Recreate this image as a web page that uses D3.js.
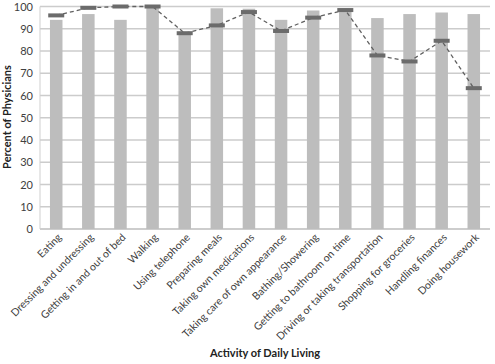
<!DOCTYPE html>
<html><head><meta charset="utf-8">
<script src="https://cdn.jsdelivr.net/npm/d3@7"></script>
<style>body{margin:0;background:#fff}svg{display:block}text{font-family:Lato,"Open Sans",sans-serif}</style>
</head><body>
<svg id="c" width="495" height="364"></svg>
<script>
const categories = ["Eating","Dressing and undressing","Getting in and out of bed","Walking","Using telephone","Preparing meals","Taking own medications","Taking care of own appearance","Bathing/Showering","Getting to bathroom on time","Driving or taking transportation","Shopping for groceries","Handling finances","Doing housework"];
const barValues = [94, 96.6, 94, 100, 87.6, 99.2, 99, 94, 98.2, 99.2, 94.8, 96.6, 97.3, 96.6];
const markerValues = [96, 99.4, 100, 100, 88, 91.5, 97.5, 89, 95, 98.4, 78, 75.3, 84.6, 63.3];
const yTicks = [0,10,20,30,40,50,60,70,80,90,100];

const svg = d3.select("#c");
const L = 40, R = 490, T = 6.5, B = 229;
const x = d3.scaleBand().domain(categories).range([L, R]).paddingInner(0.61).paddingOuter(0.31);
const y = d3.scaleLinear().domain([0,100]).range([B, T]);

// gridlines
svg.append("g").selectAll("line").data(yTicks).join("line")
  .attr("x1", L).attr("x2", R).attr("y1", d=>y(d)).attr("y2", d=>y(d))
  .attr("stroke", d=> d===0 ? "#bdbdbd" : "#cccccc").attr("stroke-width", 1.5);
// left axis line
svg.append("line").attr("x1", L).attr("x2", L).attr("y1", T).attr("y2", B).attr("stroke","#cfcfcf").attr("stroke-width",1);

// y tick labels
const yAxis = d3.axisLeft(y).tickValues(yTicks).tickSize(0).tickPadding(7);
const gy = svg.append("g").attr("transform", `translate(${L},0)`).call(yAxis);
gy.select(".domain").remove();
gy.selectAll("text").attr("font-size", 11).attr("fill", "#404040").attr("font-family","Lato,sans-serif");

// bars
svg.append("g").selectAll("rect").data(categories).join("rect")
  .attr("x", d=>x(d)).attr("width", x.bandwidth())
  .attr("y", (d,i)=>y(barValues[i])).attr("height", (d,i)=>B - y(barValues[i]))
  .attr("fill", "#bdbdbd");

// dashed line
const line = d3.line().x((d,i)=>x(categories[i]) + x.bandwidth()/2).y(d=>y(d));
svg.append("path").datum(markerValues).attr("d", line)
  .attr("fill","none").attr("stroke","#606060").attr("stroke-width",1.3).attr("stroke-dasharray","4,3");

// markers
svg.append("g").selectAll("rect").data(markerValues).join("rect")
  .attr("x", (d,i)=>x(categories[i]) + x.bandwidth()/2 - 8).attr("width", 16)
  .attr("y", d=>y(d) - 2).attr("height", 4)
  .attr("fill", "#6b6b6b");

// x labels
const xAxis = d3.axisBottom(x).tickSize(0).tickPadding(0);
const gx = svg.append("g").attr("transform", `translate(0,${B})`).call(xAxis);
gx.select(".domain").remove();
gx.selectAll("text")
  .attr("font-size", 10.5).attr("fill", "#404040").attr("font-family","Lato,sans-serif")
  .attr("text-anchor","end").attr("dy", 0).attr("y", 0)
  .attr("transform", "translate(6,9) rotate(-45)");

// axis titles
svg.append("text").attr("x", 265).attr("y", 357).attr("text-anchor","middle")
  .attr("font-size", 11).attr("font-weight","bold").attr("fill","#222").text("Activity of Daily Living");
svg.append("text").attr("transform","translate(11,117) rotate(-90)").attr("text-anchor","middle")
  .attr("font-size", 11).attr("font-weight","bold").attr("fill","#222").text("Percent of Physicians");
</script>
</body></html>
